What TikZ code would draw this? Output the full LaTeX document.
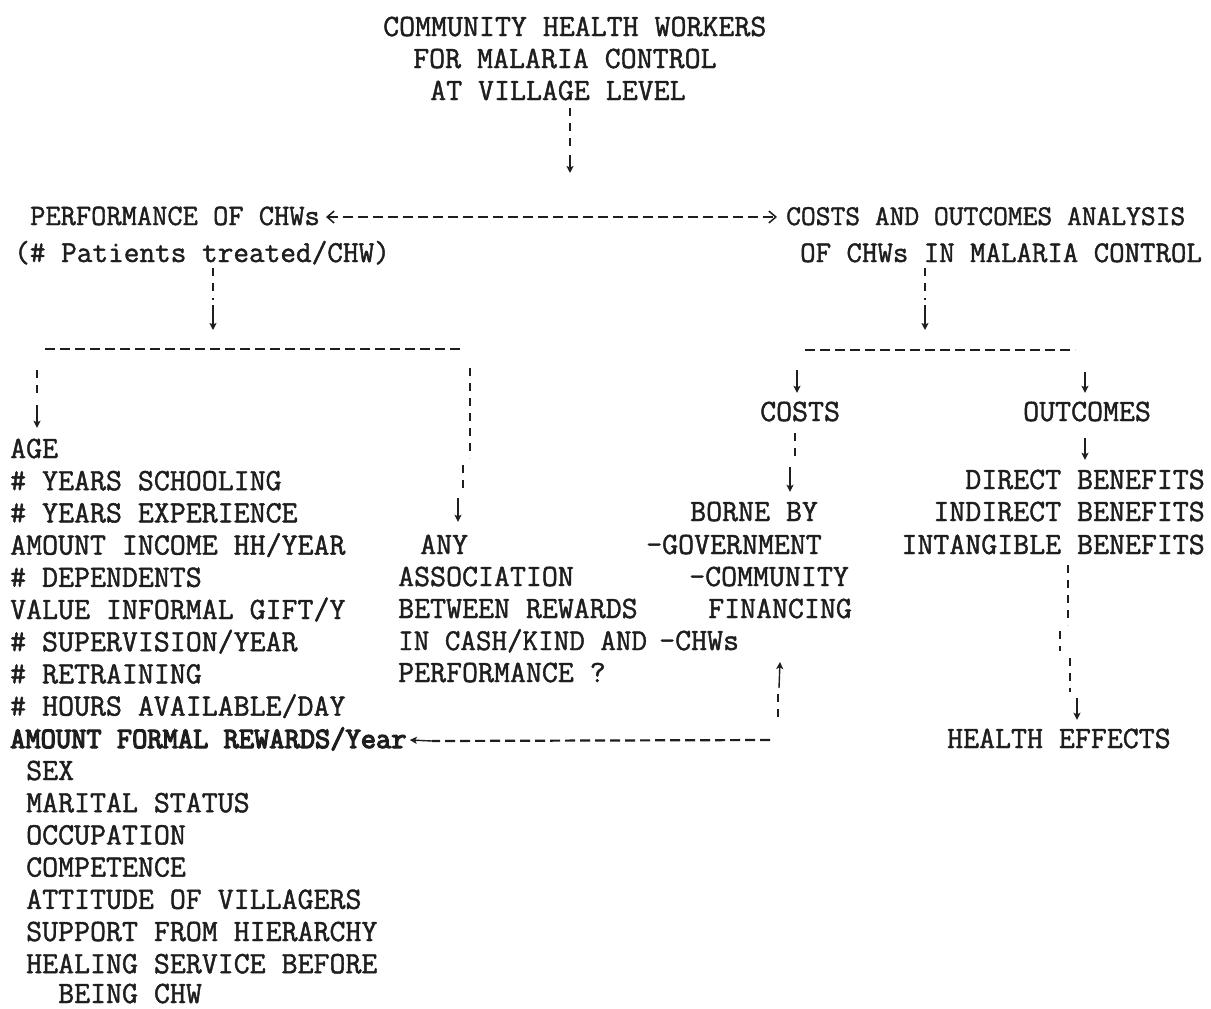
\documentclass[tikz,border=0pt]{standalone}
\usepackage{fontspec}
\newfontfamily\tw[FakeBold=1.4]{Latin Modern Mono}
\newfontfamily\twb[FakeBold=4]{Latin Modern Mono}
\usetikzlibrary{arrows.meta}
\definecolor{ink}{RGB}{30,30,30}
\begin{document}
\begin{tikzpicture}[x=1pt,y=-1pt,
  txt/.style={anchor=west, inner sep=0pt, text height=16pt, text depth=0pt,
    font=\tw\fontsize{31}{32}\selectfont, text=ink},
  fs/.style={font=\tw\fontsize{#1}{32}\selectfont},
  txr/.style={txt, anchor=east},
  txb/.style={txt, font=\twb\fontsize{29.6}{32}\selectfont},
  dsh/.style={draw=ink, line width=2.2pt, dash pattern=on 8pt off 7pt},
  hdsh/.style={draw=ink, line width=2.2pt, dash pattern=on 10pt off 5pt},
  arr/.style={draw=ink, line width=1.4pt, -{Stealth[length=7pt,width=7pt,inset=1.5pt]}},
  biarr/.style={draw=ink, line width=2.2pt, dash pattern=on 10pt off 5pt,
    {Straight Barb[length=7pt,width=12pt,line width=1.5pt]}-{Straight Barb[length=7pt,width=12pt,line width=1.5pt]}},
]
\fill[white] (0,0) rectangle (1211,1009);
\useasboundingbox (0,0) rectangle (1211,1009);

% title
\node[txt] (t1) at (383,28) {COMMUNITY HEALTH WORKERS};
\node[txt] (t2) at (413,60) {FOR MALARIA CONTROL};
\node[txt] (t3) at (430,92) {AT VILLAGE LEVEL};

% second level
\node[txt, fs=29.6] (perf)  at (30,217)  {PERFORMANCE OF CHWs};
\node[txt, fs=30.4] (perfb) at (14,254)  {(\# Patients treated/CHW)};
\node[txt, fs=28.7] (cao)   at (786,217) {COSTS AND OUTCOMES ANALYSIS};
\node[txt, fs=30] (caob)  at (800,254) {OF CHWs IN MALARIA CONTROL};

% left list
\foreach \t [count=\i from 0] in {AGE,\# YEARS SCHOOLING,\# YEARS EXPERIENCE,AMOUNT INCOME HH/YEAR,\# DEPENDENTS,VALUE INFORMAL GIFT/Y,\# SUPERVISION/YEAR,\# RETRAINING,\# HOURS AVAILABLE/DAY}
  \node[txt] (f\i) at (10,{450+32.2*\i}) {\t};
\node[txb] (formal) at (10,740) {AMOUNT FORMAL REWARDS/Year};
\foreach \t [count=\i from 0] in {SEX,MARITAL STATUS,OCCUPATION,COMPETENCE,ATTITUDE OF VILLAGERS,SUPPORT FROM HIERARCHY,HEALING SERVICE BEFORE}
  \node[txt] (g\i) at (26,{772+32.2*\i}) {\t};
\node[txt] (g7) at (58,995) {BEING CHW};

% middle column
\node[txt] (any) at (420,546) {ANY};
\node[txt] (m1) at (398,578) {ASSOCIATION};
\node[txt] (m2) at (398,610) {BETWEEN REWARDS};
\node[txt, fs=30.2] (m3) at (398,642) {IN CASH/KIND AND};
\node[txt] (m4) at (398,674) {PERFORMANCE ?};

% costs column
\node[txt] (costs) at (760,413) {COSTS};
\node[txt] (borne) at (690,513) {BORNE BY};
\node[txt] (gov)   at (646,546) {-GOVERNMENT};
\node[txt] (comm)  at (689,578) {-COMMUNITY};
\node[txt] (fin)   at (708,610) {FINANCING};
\node[txt] (chws)  at (659,642) {-CHWs};

% outcomes column
\node[txt] (outc) at (1023,413) {OUTCOMES};
\node[txr] (dir)  at (1205,481) {DIRECT BENEFITS};
\node[txr] (ind)  at (1205,513) {INDIRECT BENEFITS};
\node[txr] (intg) at (1205,546) {INTANGIBLE BENEFITS};
\node[txt] (health) at (947,740) {HEALTH EFFECTS};

% coordinates
\coordinate (a1) at (570,150);
\coordinate (a1e) at (570,173);
\coordinate (lb1) at (45,349);
\coordinate (lb2) at (462,349);
\coordinate (rb1) at (805,350);
\coordinate (rb2) at (1075,350);
\coordinate (pL) at (213,300);
\coordinate (pR) at (925,300);
\coordinate (bL) at (37,400);
\coordinate (bM1) at (470,368);
\coordinate (bM2) at (470,458);
\coordinate (bM3) at (463,465);
\coordinate (bM4) at (463,492);
\coordinate (cA) at (795,458);
\coordinate (h1) at (1068,565);
\coordinate (h2) at (1068,625);
\coordinate (h3) at (1060,631);
\coordinate (h4) at (1060,651);
\coordinate (h5) at (1070,658);
\coordinate (h6) at (1070,692);
\coordinate (hl) at (770,740);
\coordinate (hlx) at (432,741);
\coordinate (u1) at (778,717);
\coordinate (u2) at (778,692);

% connectors
\draw[dsh] ([yshift=-8pt]t3.south -| a1) -- (a1);
\draw[arr] (570,155) -- (a1e);
\draw[biarr] ([xshift=6pt]perf.east) -- ([xshift=-9pt]cao.west);
\draw[dsh] ([yshift=-6pt]perfb.south -| pL) -- (pL);
\draw[arr] (213,305) -- (213,330);
\draw[dsh] ([yshift=-6pt]caob.south -| pR) -- (pR);
\draw[arr] (925,305) -- (925,330);
\draw[hdsh] (lb1) -- (lb2);
\draw[hdsh] (rb1) -- (rb2);
\draw[dsh] (37,370) -- (bL);
\draw[arr] (37,405) -- ([yshift=14pt]f0.north -| bL);
\draw[dsh] (bM1) -- (bM2);
\draw[dsh] (bM3) -- (bM4);
\draw[arr] (458,498) -- ([yshift=16pt]any.north -| 458,0);
\draw[arr] (797,370) -- ([yshift=12pt]costs.north -| 797,0);
\draw[arr] (1085,372) -- ([yshift=12pt]outc.north -| 1085,0);
\draw[dsh] ([yshift=-12pt]costs.south -| cA) -- (cA);
\draw[arr] (790,467) -- ([yshift=13pt]borne.north -| 790,0);
\draw[arr] ([yshift=-17pt]outc.south -| 1085,0) -- ([yshift=13pt]dir.north -| 1085,0);
\draw[dsh] (h1) -- (h2);
\draw[dsh] (h3) -- (h4);
\draw[dsh] (h5) -- (h6);
\draw[arr] (1077,698) -- ([yshift=12pt]health.north -| 1077,0);
\draw[hdsh] (hl) -- (hlx);
\draw[arr] (hlx) -- ([xshift=3pt]formal.east);
\draw[dsh] (u1) -- (u2);
\draw[arr] (779,688) -- (780,662);
\end{tikzpicture}
\end{document}
